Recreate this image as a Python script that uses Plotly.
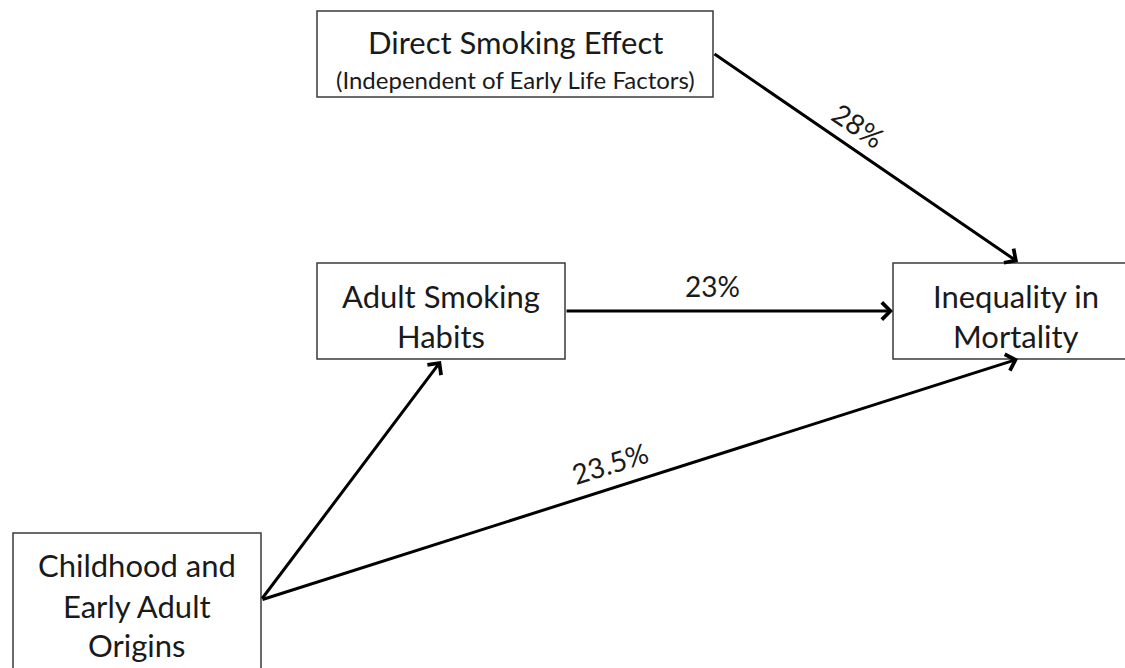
import plotly.graph_objects as go

# ---- data ----
node_lines = [
    ["Direct Smoking Effect"],
    ["Adult Smoking", "Habits"],
    ["Childhood and", "Early Adult", "Origins"],
    ["Inequality in", "Mortality"],
]
node_sublabels = ["(Independent of Early Life Factors)", "", "", ""]
edge_from = [0, 1, 2, 2]
edge_to = [3, 3, 1, 3]
edge_labels = ["28%", "23%", "", "23.5%"]

# ---- layout (pixel positions) ----
W, H = 1125, 668
boxes = [(317, 713, 11, 97), (317, 565, 263, 359), (13, 261, 533, 700), (893, 1140, 263, 359)]
text_cx = [515, 441, 137, 1016]
line_y = [[42], [296, 336], [565, 606, 645], [296, 336]]
sub_y = [79, None, None, None]
edge_tail = [(713, 53), (565, 311), (261, 600), (261, 600)]
edge_head = [(1018, 262), (893, 311), (441, 361), (1018, 359)]
label_pos = [(858, 125), (712, 286), None, (610, 463)]
label_angle = [34, 0, 0, -17.5]

FONT = "Lato"
fig = go.Figure()
shapes = []
annotations = []
for i, (x0, x1, y0, y1) in enumerate(boxes):
    shapes.append(dict(type="rect", xref="x", yref="y", x0=x0, x1=x1, y0=y0, y1=y1,
                       line=dict(color="#3a3a3a", width=1.5), fillcolor="white", layer="below"))
    cx = text_cx[i]
    for txt, y in zip(node_lines[i], line_y[i]):
        annotations.append(dict(x=cx, y=y, xref="x", yref="y", text=txt, showarrow=False,
                                font=dict(family=FONT, size=31, color="#1a1a1a"),
                                xanchor="center", yanchor="middle"))
    if node_sublabels[i]:
        annotations.append(dict(x=cx, y=sub_y[i], xref="x", yref="y", text=node_sublabels[i],
                                showarrow=False, font=dict(family=FONT, size=24, color="#1a1a1a"),
                                xanchor="center", yanchor="middle"))

for k in range(len(edge_from)):
    (tx, ty), (hx, hy) = edge_tail[k], edge_head[k]
    annotations.append(dict(x=hx, y=hy, ax=tx, ay=ty, xref="x", yref="y", axref="x", ayref="y",
                            text="", showarrow=True, arrowhead=4, arrowsize=1.1, arrowwidth=3,
                            arrowcolor="black", standoff=0, startstandoff=0))
    if edge_labels[k]:
        lx, ly = label_pos[k]
        annotations.append(dict(x=lx, y=ly, xref="x", yref="y", text=edge_labels[k], showarrow=False,
                                textangle=label_angle[k], font=dict(family=FONT, size=28, color="#1a1a1a"),
                                xanchor="center", yanchor="middle"))

fig.update_layout(
    width=W, height=H, margin=dict(l=0, r=0, t=0, b=0),
    paper_bgcolor="white", plot_bgcolor="white",
    xaxis=dict(range=[0, W], visible=False, fixedrange=True),
    yaxis=dict(range=[H, 0], visible=False, fixedrange=True),
    shapes=shapes, annotations=annotations, showlegend=False,
)
fig.write_html("out.html", config={"displayModeBar": False},
               post_script="document.body.style.margin='0px';document.body.style.overflow='hidden';")
